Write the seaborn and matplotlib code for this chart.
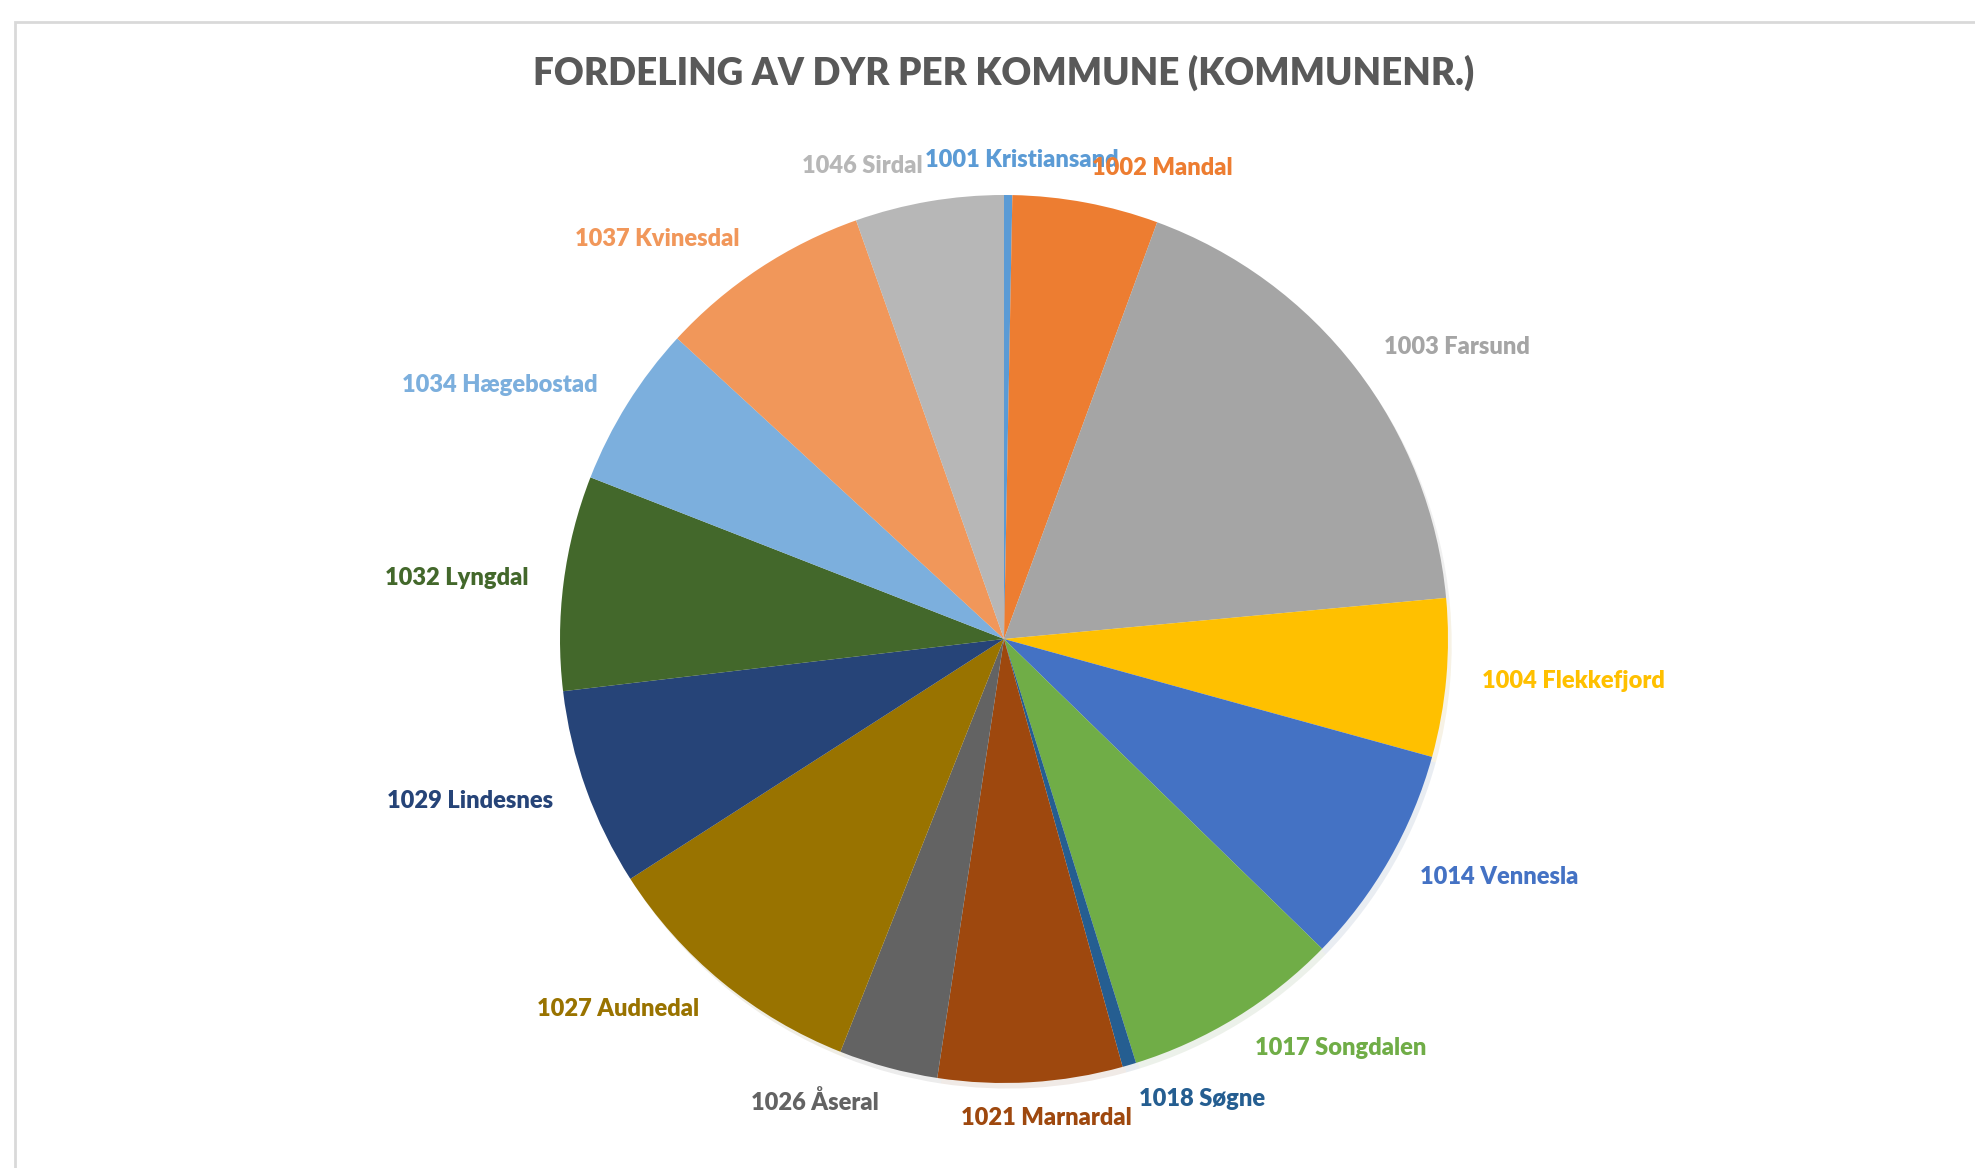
import seaborn as sns
import matplotlib.pyplot as plt
from matplotlib.patches import Rectangle

# data (share of animals per kommune)
kommuner = ["1001 Kristiansand", "1002 Mandal", "1003 Farsund", "1004 Flekkefjord",
            "1014 Vennesla", "1017 Songdalen", "1018 Søgne", "1021 Marnardal",
            "1026 Åseral", "1027 Audnedal", "1029 Lindesnes", "1032 Lyngdal",
            "1034 Hægebostad", "1037 Kvinesdal", "1046 Sirdal"]
andel = [0.3, 5.3, 17.9, 5.75, 8.0, 7.9, 0.5, 6.7, 3.6, 9.9, 7.2, 7.8, 5.9, 7.75, 5.4]
farger = ["#5B9BD5", "#ED7D31", "#A5A5A5", "#FFC000", "#4472C4", "#70AD47",
          "#255E91", "#9E480E", "#636363", "#997300", "#264478", "#43682B",
          "#7CAFDD", "#F1975A", "#B7B7B7"]

sns.set_theme(style="white")
plt.rcParams['font.family'] = ['Lato', 'DejaVu Sans']
pal = sns.color_palette(farger)

fig = plt.figure(figsize=(19.75, 11.68), dpi=100)
ax = fig.add_axes([504/1975, 29/1168, 1000/1975, 1000/1168])

wedges, texts = ax.pie(andel, labels=kommuner, colors=pal, startangle=90,
                       counterclock=False, labeldistance=1.08,
                       wedgeprops=dict(linewidth=0),
                       shadow=dict(ox=0.006, oy=-0.009, shade=0.3, alpha=0.10),
                       textprops=dict(fontsize=17, fontweight="heavy"))
for t, c in zip(texts, pal):
    t.set_color(c)
    x = t.get_position()[0]
    if abs(x) < 0.1:
        t.set_ha("center")
        t.set_x(x + 0.03)

lim = 500 / 444
ax.set_xlim(-lim, lim)
ax.set_ylim(-lim, lim)
ax.axis("off")

fig.text(0.508, 1 - 73/1168, "FORDELING AV DYR PER KOMMUNE (KOMMUNENR.)",
         ha="center", va="center", fontsize=26.5, fontweight="heavy", color="#595959")

# chart frame
fig.patches.append(Rectangle((15/1975, -0.1), 1.2, 1.1 - 22/1168, transform=fig.transFigure,
                             fill=False, edgecolor="#D9D9D9", linewidth=2))

plt.savefig("out.png", dpi=100)
